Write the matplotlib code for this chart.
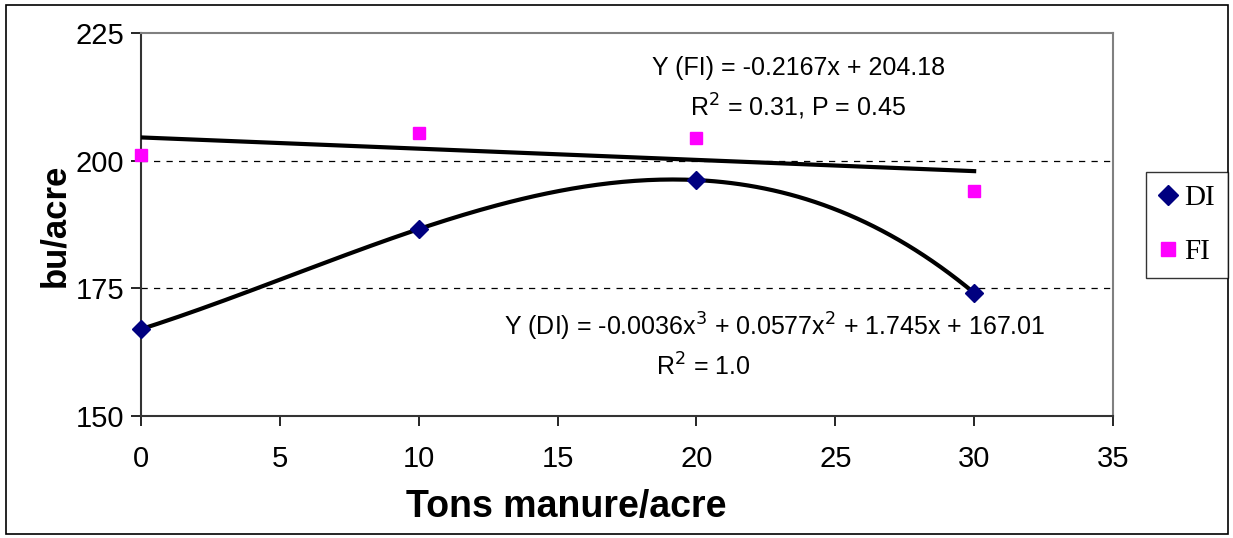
import numpy as np
import matplotlib
matplotlib.use("Agg")
import matplotlib.pyplot as plt
from matplotlib.patches import Rectangle

plt.rcParams['font.family'] = ['Liberation Sans', 'DejaVu Sans']

# data
manure = [0, 10, 20, 30]
di_yield = [167.0, 186.6, 196.2, 174.1]
fi_yield = [201.1, 205.4, 204.4, 194.1]

x_ticks = [0, 5, 10, 15, 20, 25, 30, 35]
y_ticks = [150, 175, 200, 225]

fi_eq = "Y (FI) = -0.2167x + 204.18"
fi_stats = "R$^2$ = 0.31, P = 0.45"
di_eq = "Y (DI) = -0.0036x$^3$ + 0.0577x$^2$ + 1.745x + 167.01"
di_stats = "R$^2$ = 1.0"

fig = plt.figure(figsize=(12.33, 5.38), dpi=100)
ax = fig.add_axes([141 / 1233, 1 - 416 / 538, 972 / 1233, 383 / 538])

# outer chart border
fig.patches.append(Rectangle((6 / 1233, 4 / 538), 1222 / 1233, 529 / 538,
                             transform=fig.transFigure, fill=False,
                             edgecolor='black', linewidth=1.2))

# trend lines fitted from the points
xs = np.linspace(0, 30, 200)
di_fit = np.polyfit(manure, di_yield, 3)
fi_fit = np.polyfit(manure, fi_yield, 1)
ax.plot(xs, np.polyval(di_fit, xs), color='black', linewidth=3.0, zorder=3)
ax.plot(xs, np.polyval(fi_fit, xs), color='black', linewidth=3.0, zorder=3)

ax.plot(manure, di_yield, linestyle='none', marker='D', markersize=9,
        color='#000080', label='DI', zorder=4, clip_on=False)
ax.plot(manure, fi_yield, linestyle='none', marker='s', markersize=9,
        color='#FF00FF', label='FI', zorder=4, clip_on=False)

ax.set_xlim(0, 35)
ax.set_ylim(150, 225)
ax.set_xticks(x_ticks)
ax.set_yticks(y_ticks)
for yv in y_ticks[1:3]:
    ax.axhline(yv, color='black', linestyle=(0, (5, 5)), linewidth=0.9, zorder=1)

ax.tick_params(axis='both', direction='out', length=7, width=1.2, labelsize=21, colors='black')
ax.tick_params(axis='x', pad=14)
ax.tick_params(axis='y', pad=5)
for side in ['left', 'bottom']:
    ax.spines[side].set_color('#333333')
    ax.spines[side].set_linewidth(1.5)
for side in ['top', 'right']:
    ax.spines[side].set_color('#808080')
    ax.spines[side].set_linewidth(1.5)

ax.set_xlabel('Tons manure/acre', fontsize=27, fontweight='bold')
ax.xaxis.set_label_coords(0.438, -0.238)
ax.xaxis.label.set_va('center')
ax.set_ylabel('bu/acre', fontsize=25, fontweight='bold')
ax.yaxis.set_label_coords(-0.0885, 0.499)
ax.yaxis.label.set_va('center')

ax.text(0.676, 0.909, fi_eq, transform=ax.transAxes, ha='center', va='center', fontsize=18)
ax.text(0.676, 0.807, fi_stats, transform=ax.transAxes, ha='center', va='center', fontsize=18)
ax.text(0.652, 0.232, di_eq, transform=ax.transAxes, ha='center', va='center', fontsize=18)
ax.text(0.578, 0.128, di_stats, transform=ax.transAxes, ha='center', va='center', fontsize=18)

leg = fig.legend(loc='center', bbox_to_anchor=(1187 / 1233, 1 - 225 / 538),
                 prop={'family': 'Liberation Serif', 'size': 21},
                 frameon=True, fancybox=False, edgecolor='black',
                 handlelength=0.6, handletextpad=0.25, labelspacing=0.95,
                 borderpad=0.45, borderaxespad=0, markerscale=1.15)
leg.get_frame().set_linewidth(1.0)

fig.savefig('out.png', dpi=100)
